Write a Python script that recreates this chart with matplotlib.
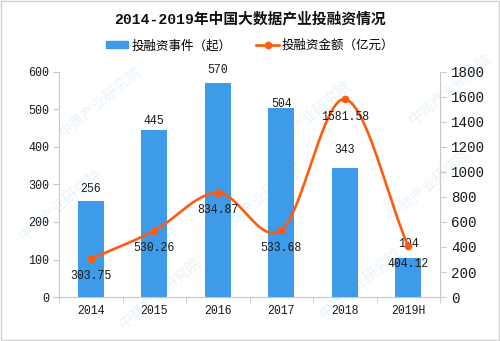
import numpy as np
import matplotlib
matplotlib.use("Agg")
import matplotlib.pyplot as plt
from matplotlib.lines import Line2D
from matplotlib.patches import Patch

plt.rcParams['font.family'] = ['Liberation Mono', 'Noto Sans CJK SC', 'DejaVu Sans']

years = ["2014", "2015", "2016", "2017", "2018", "2019H"]
deals = [256, 445, 570, 504, 343, 104]
amounts = [303.75, 530.26, 834.87, 533.68, 1581.58, 404.12]

bar_color = "#3d9be9"
line_color = "#ff5b0f"
text_color = "#1a1a1a"

fig = plt.figure(figsize=(5.0, 3.41), dpi=100)
ax = fig.add_axes([0.118, 0.129, 0.762, 0.660])
ax2 = ax.twinx()

x = np.arange(len(years))
ax.bar(x, deals, width=0.41, color=bar_color, zorder=2)
ax.set_xlim(-0.5, len(years) - 0.5)
ax.set_ylim(0, 600)
ax.set_yticks(range(0, 601, 100))
ax2.set_ylim(0, 1800)
ax2.set_yticks(range(0, 1801, 200))

# value labels above the bars
bar_label_offsets = [8.5, 6.5, 9.5, 3.0, 13.0, 10.0]
for xi, v, off in zip(x, deals, bar_label_offsets):
    ax.annotate(str(v), (xi, v), xytext=(0, off), textcoords="offset points",
                ha="center", va="center", fontsize=8.3, color=text_color, zorder=5)


def catmull_rom(xs, ys, n=40):
    xs = np.asarray(xs, float)
    ys = np.asarray(ys, float)
    px = np.concatenate([[2 * xs[0] - xs[1]], xs, [2 * xs[-1] - xs[-2]]])
    py = np.concatenate([[2 * ys[0] - ys[1]], ys, [2 * ys[-1] - ys[-2]]])
    out_x, out_y = [], []
    for i in range(1, len(px) - 2):
        t = np.linspace(0, 1, n)
        for arr, out in ((px, out_x), (py, out_y)):
            p0, p1, p2, p3 = arr[i - 1], arr[i], arr[i + 1], arr[i + 2]
            out.append(0.5 * ((2 * p1) + (-p0 + p2) * t
                              + (2 * p0 - 5 * p1 + 4 * p2 - p3) * t ** 2
                              + (-p0 + 3 * p1 - 3 * p2 + p3) * t ** 3))
    return np.concatenate(out_x), np.concatenate(out_y)


sx, sy = catmull_rom(x, amounts)
ax2.plot(sx, sy, color=line_color, lw=1.9, zorder=3, solid_capstyle="round")
ax2.plot(x, amounts, "o", color=line_color, ms=4.5, zorder=4)

for xi, v in zip(x, amounts):
    ax2.annotate(f"{v:.2f}", (xi, v), xytext=(0, -12.5), textcoords="offset points",
                 ha="center", va="center", fontsize=8.3, color=text_color, zorder=5)

ax2.set_zorder(ax.get_zorder() + 1)
ax2.patch.set_visible(False)

spine_c = "#c8c8c8"
for a in (ax, ax2):
    a.spines["top"].set_visible(False)
    for s in ("left", "right", "bottom"):
        a.spines[s].set_color(spine_c)
    a.tick_params(colors=text_color, length=4, color=spine_c)
ax.spines["right"].set_visible(False)
ax2.spines["left"].set_visible(False)
ax2.spines["bottom"].set_visible(False)
ax.tick_params(axis="y", labelsize=8.4, pad=3)
ax2.tick_params(axis="y", labelsize=10.3, pad=4)

ax.set_xticks(x)
ax.set_xticklabels(years)
ax.tick_params(axis="x", length=0, pad=6, labelsize=8.3)
ax.set_xticks(np.arange(-0.5, len(years), 1.0), minor=True)
ax.tick_params(axis="x", which="minor", length=4, color=spine_c)

# faint publisher watermark
for wx, wy in [(0.2, 0.70), (0.62, 0.66), (0.9, 0.74),
               (0.12, 0.40), (0.52, 0.42), (0.86, 0.46), (0.32, 0.14), (0.72, 0.17)]:
    fig.text(wx, wy, "中商产业研究院", rotation=40, fontsize=10.5, color="#5aa7dc",
             alpha=0.14, ha="center", va="center", family=["Noto Sans CJK SC"], zorder=0)

fig.suptitle("2014-2019年中国大数据产业投融资情况", y=0.944, va="center", fontsize=10.6,
             fontweight="bold", color="#111111")

handles = [Patch(color=bar_color),
           Line2D([0], [0], color=line_color, lw=1.9, marker="o", ms=4.5)]
fig.legend(handles, ["投融资事件（起）", "投融资金额（亿元）"], loc="center",
           bbox_to_anchor=(0.5, 0.865), ncol=2, frameon=False, fontsize=9,
           handlelength=1.8, handleheight=0.45, columnspacing=2.0, handletextpad=0.25)

fig.patches.append(plt.Rectangle((0.002, 0.003), 0.996, 0.994, transform=fig.transFigure,
                                 fill=False, edgecolor="#d0d0d0", lw=1))

fig.savefig("out.png", dpi=100)
